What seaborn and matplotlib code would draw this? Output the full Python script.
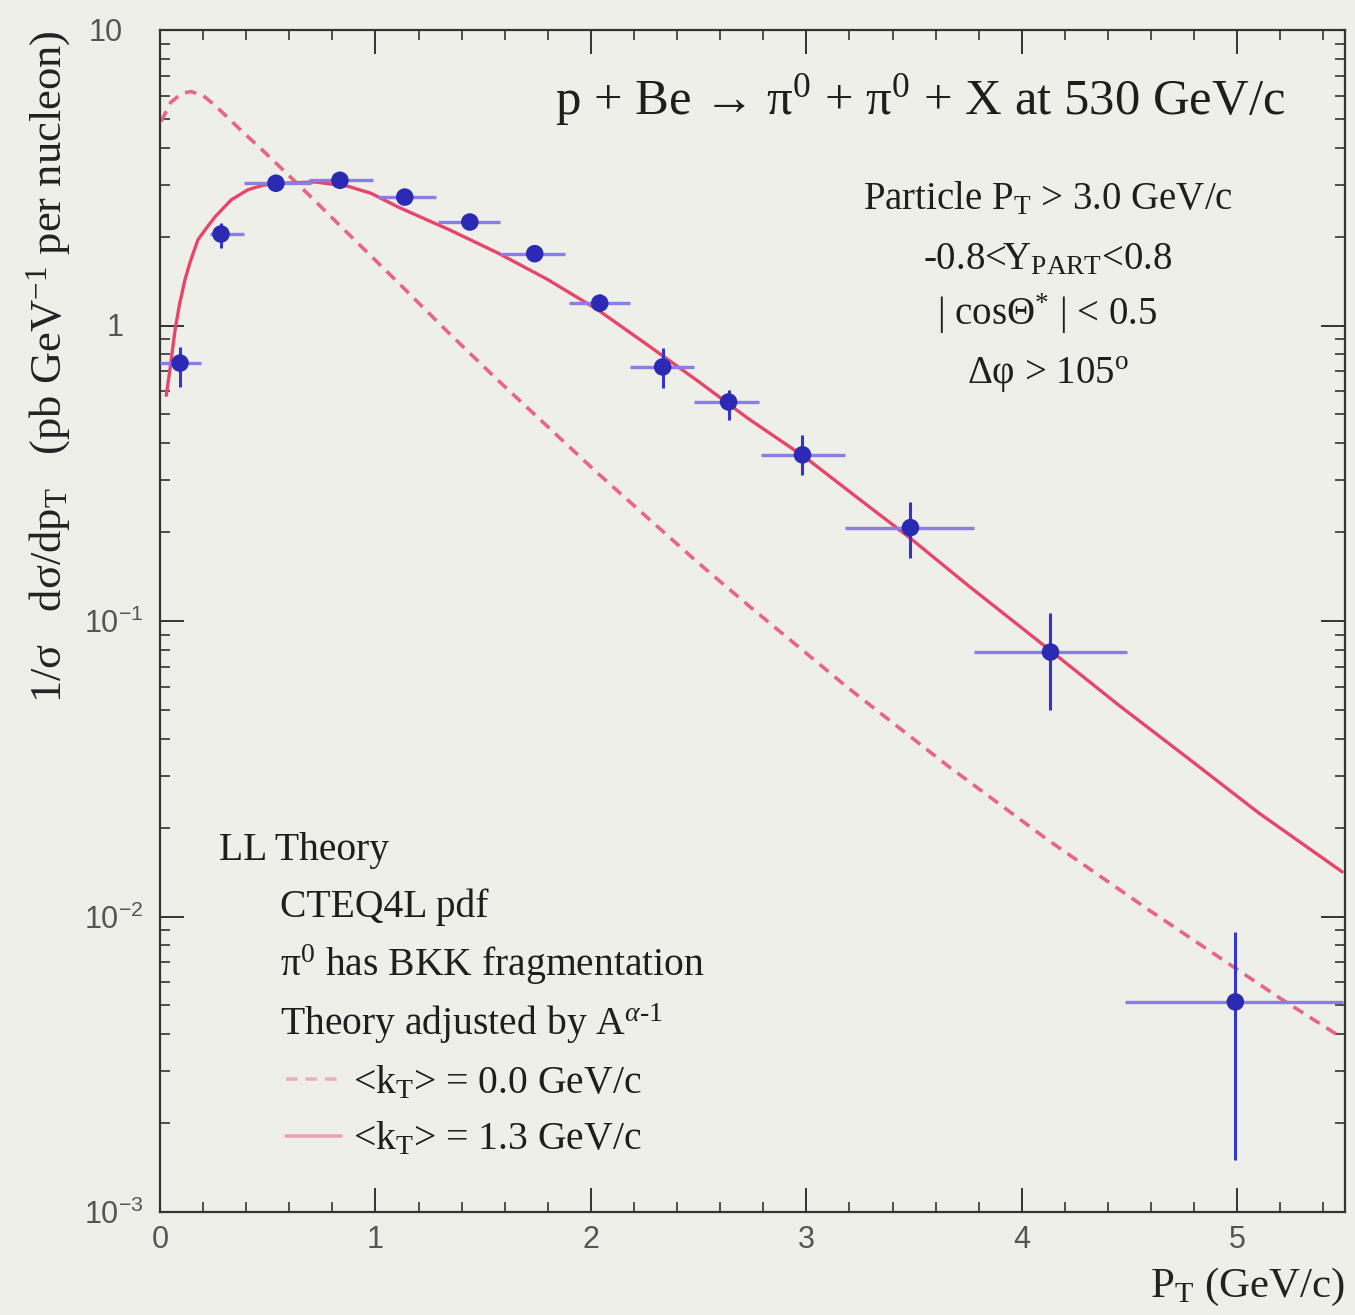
import numpy as np
import pandas as pd
import matplotlib
matplotlib.use("Agg")
import matplotlib.pyplot as plt
import seaborn as sns
from matplotlib.transforms import ScaledTranslation
from matplotlib.ticker import MultipleLocator, LogLocator, FixedLocator, FixedFormatter, NullFormatter

# ---------------- data ----------------
# measured points
pt = [0.093, 0.283, 0.538, 0.835, 1.136, 1.438, 1.739, 2.041, 2.333, 2.639, 2.982, 3.483, 4.133, 4.991]
pt_lo = [0.00, 0.23, 0.39, 0.69, 1.01, 1.29, 1.58, 1.90, 2.18, 2.48, 2.79, 3.18, 3.78, 4.48]
pt_hi = [0.19, 0.39, 0.70, 0.99, 1.28, 1.58, 1.88, 2.18, 2.48, 2.78, 3.18, 3.78, 4.49, 5.49]
xsec = [0.746, 2.04, 3.03, 3.10, 2.72, 2.24, 1.75, 1.19, 0.724, 0.551, 0.365, 0.207, 0.0785, 0.00514]
xsec_lo = [0.619, 1.83, 2.90, 2.97, 2.60, 2.12, 1.66, 1.12, 0.615, 0.479, 0.312, 0.163, 0.050, 0.00150]
xsec_hi = [0.845, 2.22, 3.16, 3.23, 2.86, 2.37, 1.85, 1.28, 0.839, 0.605, 0.426, 0.253, 0.1064, 0.00887]

# theory, <kT> = 1.3 GeV/c (solid)
kt13_x = [0.029, 0.045, 0.070, 0.090, 0.116, 0.140, 0.176, 0.210, 0.255, 0.330, 0.408, 0.480,
          0.561, 0.719, 0.872, 0.980, 1.104, 1.220, 1.336, 1.568, 1.800, 2.032, 2.263, 2.495,
          2.727, 2.992, 3.250, 3.483, 3.750, 4.133, 4.450, 4.763, 5.100, 5.487]
kt13_y = [0.58, 0.70, 0.966, 1.175, 1.43, 1.64, 1.95, 2.11, 2.33, 2.66, 2.88, 2.985,
          3.03, 3.06, 2.96, 2.80, 2.52, 2.31, 2.12, 1.76, 1.43, 1.13, 0.859, 0.650,
          0.486, 0.359, 0.257, 0.1905, 0.132, 0.0794, 0.0519, 0.0347, 0.0224, 0.01416]

# theory, <kT> = 0.0 GeV/c (dashed)
kt00_x = [0.005, 0.050, 0.100, 0.144, 0.200, 0.255, 0.362, 0.487, 0.594, 0.686, 0.872, 1.104,
          1.336, 1.568, 2.032, 2.495, 2.727, 3.191, 3.655, 4.119, 4.583, 5.195, 5.464]
kt00_y = [4.90, 5.69, 6.10, 6.19, 6.00, 5.56, 4.68, 3.85, 3.24, 2.79, 2.05, 1.40,
          0.950, 0.653, 0.316, 0.158, 0.1135, 0.0596, 0.0324, 0.0182, 0.0106, 0.00531, 0.00398]

ytick_vals = [1e-3, 1e-2, 1e-1, 1, 10]
ytick_labels = [r'$\mathsf{10^{-3}}$', r'$\mathsf{10^{-2}}$', r'$\mathsf{10^{-1}}$',
                r'$\mathsf{1}$', r'$\mathsf{10}$']

# ---------------- style ----------------
sns.set_theme(style="ticks")
BG = '#efefe9'
plt.rcParams['font.family'] = ['Liberation Serif', 'DejaVu Serif']
plt.rcParams['mathtext.fontset'] = 'custom'
plt.rcParams['mathtext.rm'] = 'Liberation Serif'
plt.rcParams['mathtext.it'] = 'Liberation Serif:italic'
plt.rcParams['mathtext.sf'] = 'Liberation Sans'
plt.rcParams['axes.linewidth'] = 1.6
plt.rcParams['axes.edgecolor'] = '#333333'

fig = plt.figure(figsize=(13.55, 13.15), dpi=100, facecolor=BG)
ax = fig.add_axes([160 / 1355, 1 - 1212 / 1315, (1345 - 160) / 1355, (1212 - 30) / 1315])
ax.set_facecolor(BG)

curve_col = '#e8456a'
df13 = pd.DataFrame({'x': kt13_x, 'y': kt13_y})
df00 = pd.DataFrame({'x': kt00_x, 'y': kt00_y})
sns.lineplot(data=df00, x='x', y='y', ax=ax, color='#ea6487', lw=2.6, sort=False,
             estimator=None, label=r'<k$_{\rm T}$> = 0.0 GeV/c', linestyle=(0, (3.2, 2.2)))
sns.lineplot(data=df13, x='x', y='y', ax=ax, color=curve_col, lw=2.4, sort=False,
             estimator=None, label=r'<k$_{\rm T}$> = 1.3 GeV/c')

# error bars
xerr = [np.array(pt) - np.array(pt_lo), np.array(pt_hi) - np.array(pt)]
yerr = [np.array(xsec) - np.array(xsec_lo), np.array(xsec_hi) - np.array(xsec)]
ax.errorbar(pt, xsec, xerr=xerr, fmt='none', ecolor='#8a7de6', elinewidth=2.4, capsize=0, zorder=3)
ax.errorbar(pt, xsec, yerr=yerr, fmt='none', ecolor='#3535c8', elinewidth=2.2, capsize=0, zorder=3)
sns.scatterplot(x=pt, y=xsec, ax=ax, color='#2a2ab4', s=160, edgecolor='none', zorder=4)

ax.set_yscale('log')
ax.set_xlim(0, 5.5)
ax.set_ylim(1e-3, 10)

ax.xaxis.set_major_locator(MultipleLocator(1))
ax.xaxis.set_minor_locator(MultipleLocator(0.2))
ax.yaxis.set_major_locator(FixedLocator(ytick_vals))
ax.yaxis.set_major_formatter(FixedFormatter(ytick_labels))
ax.yaxis.set_minor_locator(LogLocator(base=10, subs=np.arange(2, 10)))
ax.yaxis.set_minor_formatter(NullFormatter())
ax.tick_params(which='both', direction='in', top=True, right=True, colors='#333333')
ax.tick_params(which='major', length=17, width=1.4, labelsize=22, labelcolor='#555555')
ax.tick_params(which='minor', length=7, width=1.2)
ax.tick_params(axis='x', which='major', pad=9)
ax.tick_params(axis='y', which='major', pad=12)
for lab in ax.get_xticklabels():
    lab.set_fontfamily('Liberation Sans')

ax.set_xlabel(r'P$_{\rm T}$ (GeV/c)', fontsize=31, loc='right', labelpad=8, color='#222222')
ax.set_ylabel(r'1/σ   dσ/dp$_{\rm T}$   (pb GeV$^{-1}$ per nucleon)', fontsize=32, loc='top',
              labelpad=8, color='#222222')

txtc = '#1e1e1e'
ax.text(0.641, 0.941, r'p + Be → π$^{0}$ + π$^{0}$ + X at 530 GeV/c', transform=ax.transAxes,
        fontsize=36.5, ha='center', va='center', color=txtc)
right_lines = [r'Particle P$_{\rm T}$ > 3.0 GeV/c', r'-0.8<Y$_{\rm PART}$<0.8',
               r'| cosΘ$^{*}$ | < 0.5', r'Δφ > 105$^{\rm o}$']
for t, yy in zip(right_lines, [0.857, 0.806, 0.760, 0.708]):
    ax.text(0.749, yy, t, transform=ax.transAxes, fontsize=28, ha='center', va='center', color=txtc)

left_lines = [(0.050, 0.306, 'LL Theory'), (0.101, 0.258, 'CTEQ4L pdf'),
              (0.101, 0.209, r'π$^{0}$ has BKK fragmentation'),
              (0.101, 0.159, r'Theory adjusted by A$^{α\text{-}1}$')]
for xx, yy, t in left_lines:
    ax.text(xx, yy, t, transform=ax.transAxes, fontsize=28.5, ha='left', va='center', color=txtc)

leg = ax.legend(loc='upper left', bbox_to_anchor=(0.106, 0.125), frameon=False, fontsize=28.5,
                handlelength=1.4, handletextpad=0.3, labelspacing=0.48, borderpad=0, borderaxespad=0)
for h in leg.get_lines():
    h.set_alpha(0.45)
    h.set_linewidth(2.6)
for t in leg.get_texts():
    t.set_color(txtc)

# shift the plain "1" and "10" labels left so the mantissas line up as in the original
fig.canvas.draw()
shift = ScaledTranslation(-0.20, 0, fig.dpi_scale_trans)
for tick in ax.yaxis.get_major_ticks():
    if tick.label1.get_text() in (r'$\mathsf{1}$', r'$\mathsf{10}$'):
        tick.label1.set_transform(tick.label1.get_transform() + shift)

fig.savefig('out.png', dpi=100, facecolor=BG)
